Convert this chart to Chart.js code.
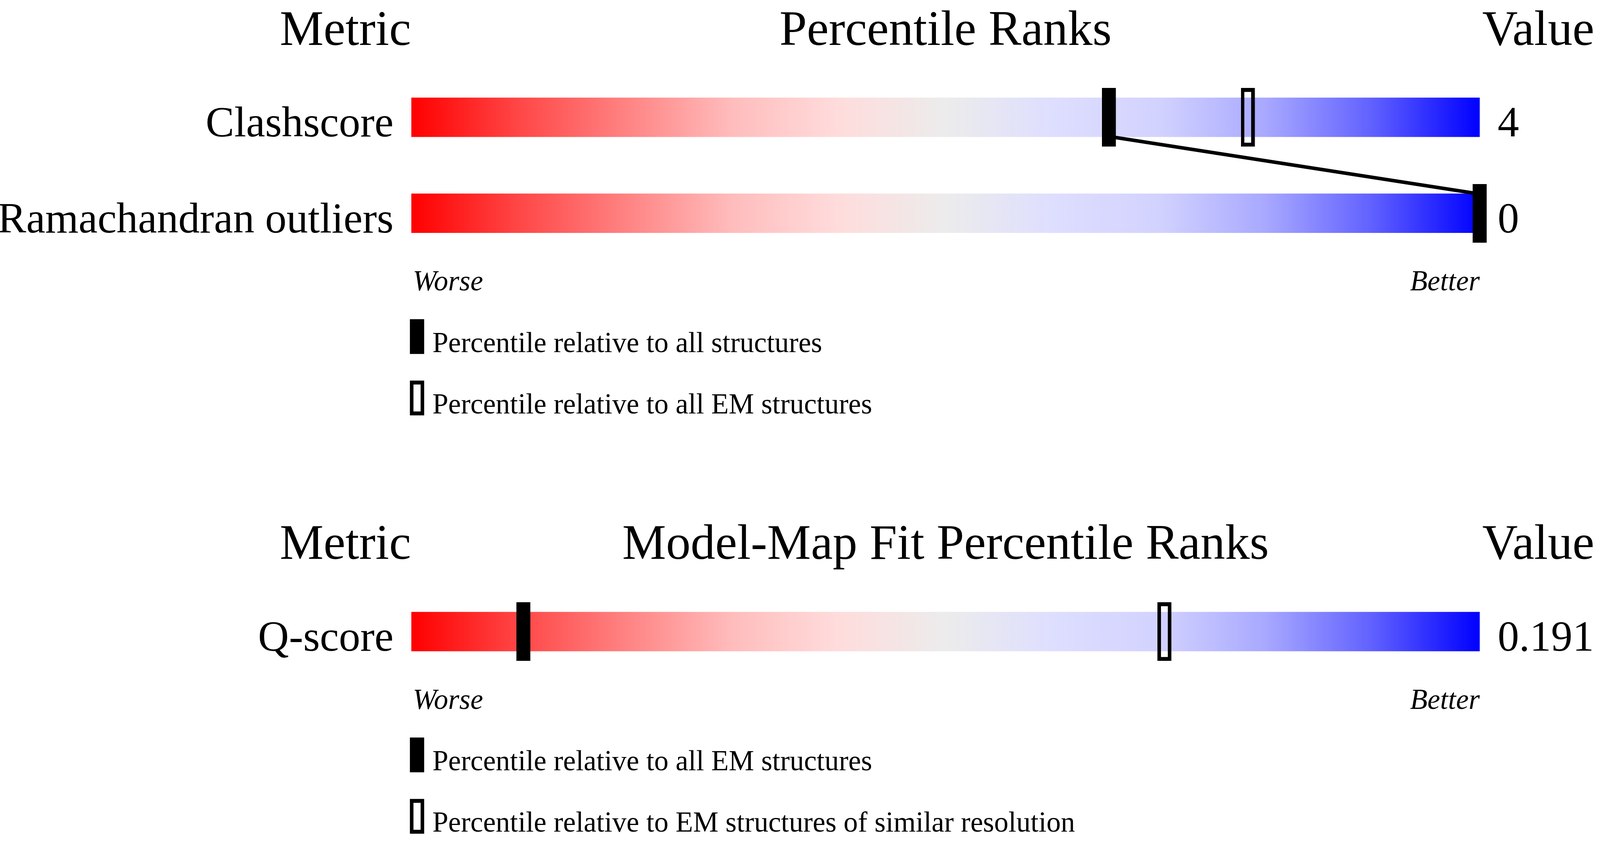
<!DOCTYPE html>
<html>
<head>
<meta charset="utf-8">
<script src="https://cdn.jsdelivr.net/npm/chart.js@4"></script>
<style>
  html, body { margin: 0; padding: 0; background: #fff; overflow: hidden; }
  canvas { display: block; }
</style>
</head>
<body>
<canvas id="grafico"></canvas>
<script>
// Dados - seção de qualidade do modelo
const qualityTitle = 'Percentile Ranks';
const qualityMetrics = ['Clashscore', 'Ramachandran outliers'];
const qualityValues = ['4', '0'];
const qualityPctAll = [65.3, 100];
const qualityPctEM = [78.3, 100];
const qualityLegend = ['Percentile relative to all structures', 'Percentile relative to all EM structures'];

// Dados - seção de ajuste modelo-mapa
const fitTitle = 'Model-Map Fit Percentile Ranks';
const fitMetrics = ['Q-score'];
const fitValues = ['0.191'];
const fitPctAll = [10.5];
const fitPctRes = [70.5];
const fitLegend = ['Percentile relative to all EM structures', 'Percentile relative to EM structures of similar resolution'];

// Layout em pixels da imagem de referência (4485 x 2152), escalado para a janela
const W = 4485, H = 2152;
const vw = window.innerWidth, vh = window.innerHeight;
const kx = vw / W, ky = vh / H;
const px = v => v * kx;   // medidas horizontais e fontes
const py = v => v * ky;   // medidas verticais
const layout = {
  padLeft: 1153, padRight: 337,
  barH: 100, markerW: 40, markerH: 150, stroke: 10,
  sections: [
    { titleBase: 97, rows: [286, 536] },
    { titleBase: 1436, rows: [1626] }
  ]
};
const serif = "'Liberation Serif', 'Times New Roman', serif";

const canvas = document.getElementById('grafico');
canvas.style.width = vw + 'px';
canvas.style.height = vh + 'px';

const sections = [
  { title: qualityTitle, metrics: qualityMetrics, values: qualityValues, all: qualityPctAll, other: qualityPctEM, legend: qualityLegend, link: true },
  { title: fitTitle, metrics: fitMetrics, values: fitValues, all: fitPctAll, other: fitPctRes, legend: fitLegend, link: false }
];

// Marcadores como imagens (retângulo cheio e vazado)
function markerCanvas(filled) {
  const dpr = window.devicePixelRatio || 1;
  const w = px(layout.markerW), h = py(layout.markerH);
  const sx = px(layout.stroke), sy = py(layout.stroke);
  const c = document.createElement('canvas');
  c.width = Math.round(w * dpr); c.height = Math.round(h * dpr);
  const g = c.getContext('2d');
  g.scale(dpr, dpr);
  g.fillStyle = '#000';
  g.fillRect(0, 0, w, h);
  if (!filled) g.clearRect(sx, sy, w - 2 * sx, h - 2 * sy);
  const img = new Image(w, h);
  img.src = c.toDataURL();
  return img;
}
const imgFilled = markerCanvas(true);
const imgOpen = markerCanvas(false);

// Monta os conjuntos de dados
const barData = [], allPts = [], otherPts = [], linkPts = [];
sections.forEach((s, si) => {
  const rows = layout.sections[si].rows;
  s.metrics.forEach((m, i) => {
    barData.push({ x: [0, 100], y: rows[i] });
    allPts.push({ x: s.all[i], y: rows[i] });
    otherPts.push({ x: s.other[i], y: rows[i] });
  });
  if (s.link) {
    for (let i = 0; i < s.metrics.length - 1; i++) {
      linkPts.push({ x: s.all[i], y: rows[i] + layout.barH / 2 });
      linkPts.push({ x: s.all[i + 1], y: rows[i + 1] - layout.barH / 2 });
    }
  }
});

function barGradient(ctx) {
  const chart = ctx.chart;
  const area = chart.chartArea;
  if (!area) return '#eeeeee';
  const g = chart.ctx.createLinearGradient(area.left, 0, area.right, 0);
  g.addColorStop(0.00, '#ff0000');
  g.addColorStop(0.10, '#ff4646');
  g.addColorStop(0.20, '#ff8282');
  g.addColorStop(0.30, '#ffbcbc');
  g.addColorStop(0.40, '#ffdcdc');
  g.addColorStop(0.50, '#ececec');
  g.addColorStop(0.60, '#dedeff');
  g.addColorStop(0.70, '#d2d2ff');
  g.addColorStop(0.80, '#a8a8ff');
  g.addColorStop(0.90, '#6060ff');
  g.addColorStop(1.00, '#0000ff');
  return g;
}

// Textos, títulos e legendas
const textos = {
  id: 'textos',
  afterDatasetsDraw(chart) {
    const ctx = chart.ctx;
    const xs = chart.scales.x, ys = chart.scales.y;
    const x0 = xs.getPixelForValue(0), x100 = xs.getPixelForValue(100), xm = xs.getPixelForValue(50);
    const Y = v => ys.getPixelForValue(v);
    ctx.save();
    ctx.fillStyle = '#000';
    ctx.textBaseline = 'alphabetic';
    sections.forEach((s, si) => {
      const L = layout.sections[si];
      ctx.font = `${px(138)}px ${serif}`;
      ctx.textAlign = 'right';
      ctx.fillText('Metric', x0 - px(1), Y(L.titleBase));
      ctx.textAlign = 'center';
      ctx.fillText(s.title, xm, Y(L.titleBase));
      ctx.textAlign = 'left';
      ctx.fillText('Value', x100 + px(7), Y(L.titleBase));

      ctx.font = `${px(120)}px ${serif}`;
      s.metrics.forEach((m, i) => {
        const base = Y(L.rows[i] + layout.barH / 2);
        ctx.textAlign = 'right';
        ctx.fillText(m, x0 - px(50), base);
        ctx.textAlign = 'left';
        ctx.fillText(s.values[i], x100 + px(50), base);
      });

      const lastBottom = L.rows[L.rows.length - 1] + layout.barH / 2;
      ctx.font = `italic ${px(80)}px ${serif}`;
      ctx.textAlign = 'left';
      ctx.fillText('Worse', x0 + px(4), Y(lastBottom + 151));
      ctx.textAlign = 'right';
      ctx.fillText('Better', x100, Y(lastBottom + 151));

      ctx.font = `${px(80)}px ${serif}`;
      ctx.textAlign = 'left';
      s.legend.forEach((txt, j) => {
        const top = Y(lastBottom + 226 + j * 160);
        const lx = x0 - px(4);
        ctx.fillStyle = '#000';
        ctx.fillRect(lx, top, px(40), py(89));
        if (j === 1) {
          ctx.fillStyle = '#fff';
          ctx.fillRect(lx + px(10), top + py(10), px(20), py(69));
          ctx.fillStyle = '#000';
        }
        ctx.fillText(txt, x0 + px(59), top + py(84));
      });
    });
    ctx.restore();
  }
};

function desenhar() {
  new Chart(canvas, {
    type: 'scatter',
    data: {
      datasets: [
        {
          label: 'all',
          data: allPts,
          pointStyle: imgFilled,
          pointRadius: px(20),
          clip: false
        },
        {
          label: 'other',
          data: otherPts,
          pointStyle: imgOpen,
          pointRadius: px(20),
          clip: false
        },
        {
          type: 'line',
          label: 'link',
          data: linkPts,
          borderColor: '#000',
          borderWidth: px(10),
          pointRadius: 0,
          fill: false,
          clip: false
        },
        {
          type: 'bar',
          label: 'slider',
          indexAxis: 'y',
          data: barData,
          backgroundColor: barGradient,
          borderWidth: 0,
          barThickness: py(layout.barH)
        }
      ]
    },
    options: {
      responsive: false,
      animation: false,
      events: [],
      layout: { padding: { left: px(layout.padLeft), right: px(layout.padRight), top: 0, bottom: 0 } },
      scales: {
        x: { type: 'linear', min: 0, max: 100, offset: false, display: false },
        y: { type: 'linear', min: 0, max: H, reverse: true, offset: false, display: false }
      },
      plugins: {
        legend: { display: false },
        tooltip: { enabled: false },
        title: { display: false }
      }
    },
    plugins: [textos]
  });
}

// espera as imagens dos marcadores carregarem
Promise.all([imgFilled, imgOpen].map(im => im.decode ? im.decode().catch(() => {}) : Promise.resolve()))
  .then(desenhar);
</script>
</body>
</html>
